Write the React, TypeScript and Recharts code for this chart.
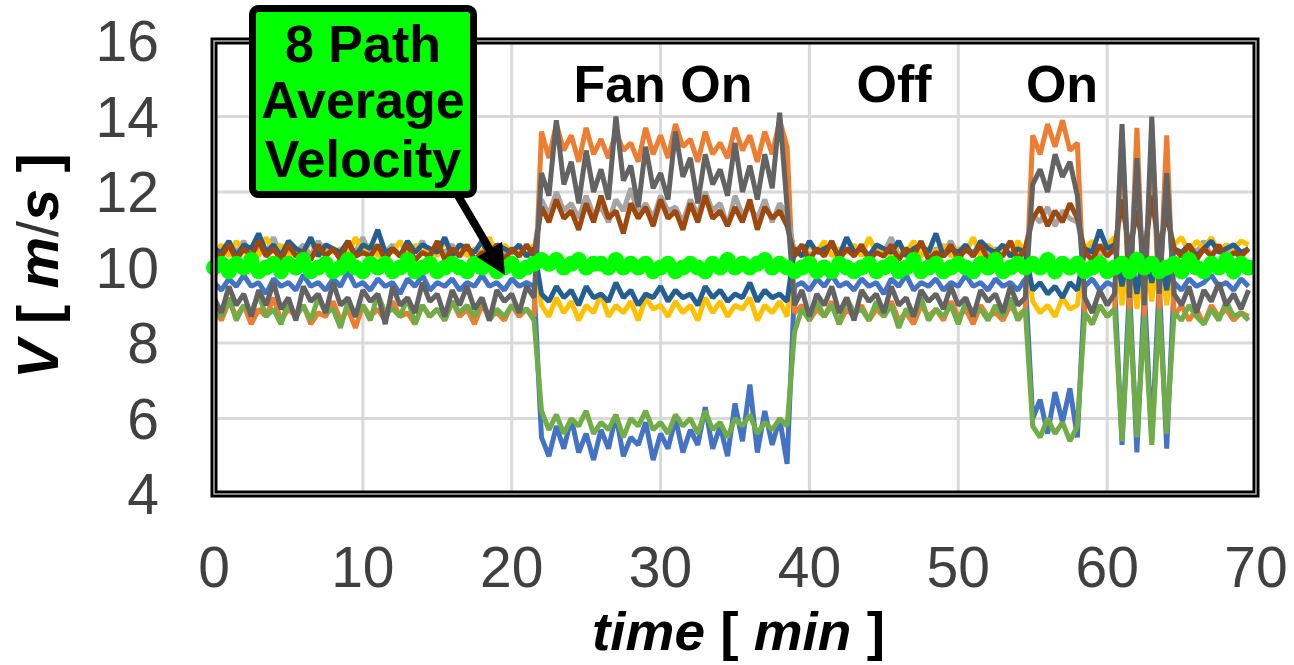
import { LineChart, Line, XAxis, YAxis, CartesianGrid } from "recharts";

// sample times [min], one reading every half minute
const time = [
  0, 0.5, 1, 1.5, 2, 2.5, 3, 3.5, 4, 4.5,
  5, 5.5, 6, 6.5, 7, 7.5, 8, 8.5, 9, 9.5,
  10, 10.5, 11, 11.5, 12, 12.5, 13, 13.5, 14, 14.5,
  15, 15.5, 16, 16.5, 17, 17.5, 18, 18.5, 19, 19.5,
  20, 20.5, 21, 21.5, 22, 22.5, 23, 23.5, 24, 24.5,
  25, 25.5, 26, 26.5, 27, 27.5, 28, 28.5, 29, 29.5,
  30, 30.5, 31, 31.5, 32, 32.5, 33, 33.5, 34, 34.5,
  35, 35.5, 36, 36.5, 37, 37.5, 38, 38.5, 39, 39.5,
  40, 40.5, 41, 41.5, 42, 42.5, 43, 43.5, 44, 44.5,
  45, 45.5, 46, 46.5, 47, 47.5, 48, 48.5, 49, 49.5,
  50, 50.5, 51, 51.5, 52, 52.5, 53, 53.5, 54, 54.5,
  55, 55.5, 56, 56.5, 57, 57.5, 58, 58.5, 59, 59.5,
  60, 60.5, 61, 61.5, 62, 62.5, 63, 63.5, 64, 64.5,
  65, 65.5, 66, 66.5, 67, 67.5, 68, 68.5, 69, 69.5,
];

// path velocities [m/s]; blocks: off 0-21.5 | on 22-38.5 | off 39-54.5 | on 55-58 | off 58.5-60.5 | cycling 61-64 | off 64.5-69.5
const path1 = [
  9.6, 9.4, 9.7, 9.5, 9.8, 9.5, 9.6, 9.3, 9.7, 9.5,
  9.6, 9.4, 9.8, 9.5, 9.6, 9.4, 9.7, 9.5, 9.9, 9.5,
  9.6, 9.4, 9.7, 9.5, 9.6, 9.3, 9.7, 9.5, 9.8, 9.4,
  9.6, 9.5, 9.7, 9.4, 9.6, 9.5, 9.8, 9.5, 9.6, 9.4,
  9.7, 9.5, 9.6, 9.5,
  5.5, 5.0, 5.8, 5.2, 6.0, 5.1, 5.6, 4.9, 5.7, 5.2,
  6.1, 5.0, 5.5, 5.3, 5.9, 4.9, 5.6, 5.2, 6.0, 5.1,
  5.7, 5.3, 6.3, 5.2, 5.8, 5.0, 6.4, 5.4, 6.9, 5.1,
  6.2, 5.3, 6.0, 4.8,
  9.5, 9.6, 9.4, 9.7, 9.5, 9.8, 9.5, 9.6, 9.4, 9.7,
  9.5, 9.6, 9.3, 9.7, 9.5, 9.8, 9.4, 9.6, 9.5, 9.7,
  9.4, 9.6, 9.5, 9.8, 9.5, 9.6, 9.4, 9.7, 9.5, 9.6,
  9.4, 9.7,
  6.0, 6.5, 5.6, 6.7, 5.9, 6.8, 5.5,
  9.5, 9.7, 9.4, 9.6, 9.5,
  5.3, 9.5, 5.1, 9.4, 5.4, 9.6, 5.2,
  9.6, 9.4, 9.7, 9.5, 9.6, 9.8, 9.5, 9.6, 9.4, 9.7, 9.5,
];

const path2 = [
  8.9, 8.6, 9.1, 8.7, 9.0, 8.5, 8.9, 8.7, 9.2, 8.6,
  8.9, 8.7, 9.0, 8.5, 8.8, 8.7, 9.1, 8.6, 8.9, 8.4,
  9.0, 8.7, 8.9, 8.6, 9.1, 8.7, 8.8, 8.5, 9.0, 8.7,
  8.9, 8.6, 9.1, 8.7, 8.9, 8.5, 9.0, 8.7, 8.8, 8.6,
  9.0, 8.7, 8.9, 8.7,
  13.6, 12.9, 13.8, 13.1, 13.5, 12.8, 13.7, 13.0, 13.4, 12.9,
  13.6, 13.1, 13.3, 12.8, 13.7, 13.0, 13.5, 12.9, 13.8, 13.2,
  13.4, 12.8, 13.6, 13.0, 13.3, 12.9, 13.7, 13.1, 13.5, 12.8,
  13.6, 13.0, 13.9, 13.2,
  8.8, 9.0, 8.6, 8.9, 8.7, 9.1, 8.5, 8.9, 8.7, 9.0,
  8.6, 8.9, 8.7, 9.1, 8.6, 8.8, 8.5, 9.0, 8.7, 8.9,
  8.6, 9.1, 8.7, 8.9, 8.5, 9.0, 8.7, 8.8, 8.6, 9.0,
  8.7, 8.9,
  13.5, 13.0, 13.8, 13.2, 13.9, 13.1, 13.3,
  8.8, 8.5, 9.0, 8.7, 8.9,
  13.6, 8.8, 13.7, 8.7, 13.6, 8.9, 13.5,
  8.7, 9.0, 8.6, 8.9, 8.5, 9.0, 8.7, 8.9, 8.6, 8.8, 8.7,
];

const path3 = [
  10.5, 10.3, 10.6, 10.4, 10.7, 10.3, 10.5, 10.4, 10.8, 10.3,
  10.5, 10.4, 10.6, 10.3, 10.7, 10.4, 10.5, 10.3, 10.6, 10.4,
  10.8, 10.3, 10.5, 10.4, 10.6, 10.3, 10.5, 10.4, 10.7, 10.3,
  10.5, 10.4, 10.6, 10.3, 10.5, 10.4, 10.7, 10.3, 10.6, 10.4,
  10.5, 10.3, 10.6, 10.4,
  11.8, 11.4, 12.0, 11.5, 11.7, 11.3, 11.9, 11.4, 11.6, 11.2,
  11.8, 11.5, 12.1, 11.4, 11.7, 11.3, 11.9, 11.5, 11.6, 11.2,
  11.8, 11.4, 12.0, 11.5, 11.7, 11.1, 11.9, 11.4, 11.6, 11.3,
  11.8, 11.2, 11.7, 11.4,
  10.4, 10.6, 10.3, 10.5, 10.4, 10.7, 10.3, 10.5, 10.4, 10.6,
  10.3, 10.5, 10.4, 10.8, 10.3, 10.5, 10.4, 10.6, 10.3, 10.5,
  10.4, 10.7, 10.3, 10.5, 10.4, 10.6, 10.3, 10.5, 10.4, 10.7,
  10.3, 10.5,
  11.4, 11.2, 11.6, 11.1, 11.5, 11.3, 11.2,
  10.4, 10.6, 10.3, 10.5, 10.4,
  11.8, 10.4, 11.6, 10.5, 11.9, 10.4, 11.5,
  10.5, 10.3, 10.6, 10.4, 10.7, 10.3, 10.5, 10.4, 10.6, 10.3, 10.5,
];

const path4 = [
  10.4, 10.6, 10.3, 10.7, 10.4, 10.5, 10.3, 10.8, 10.4, 10.6,
  10.3, 10.5, 10.4, 10.7, 10.3, 10.6, 10.4, 10.5, 10.3, 10.8,
  10.4, 10.6, 10.3, 10.5, 10.4, 10.7, 10.3, 10.6, 10.4, 10.5,
  10.3, 10.7, 10.4, 10.6, 10.3, 10.5, 10.4, 10.8, 10.3, 10.6,
  10.4, 10.5, 10.3, 10.6,
  9.0, 8.7, 9.2, 8.8, 9.1, 8.6, 9.0, 8.8, 9.3, 8.7,
  9.0, 8.8, 9.1, 8.6, 9.2, 8.9, 9.0, 8.7, 9.1, 8.8,
  9.0, 8.6, 9.2, 8.8, 9.1, 8.7, 9.0, 8.9, 9.2, 8.6,
  9.0, 8.8, 9.1, 8.7,
  10.5, 10.3, 10.6, 10.4, 10.7, 10.3, 10.5, 10.4, 10.6, 10.3,
  10.8, 10.4, 10.5, 10.3, 10.6, 10.4, 10.7, 10.3, 10.5, 10.4,
  10.6, 10.3, 10.5, 10.4, 10.8, 10.3, 10.6, 10.4, 10.5, 10.3,
  10.7, 10.4,
  9.1, 8.8, 9.0, 8.7, 9.2, 8.9, 9.0,
  10.5, 10.7, 10.4, 10.6, 10.8,
  9.0, 10.6, 8.9, 10.5, 9.1, 10.7, 9.0,
  10.6, 10.8, 10.4, 10.7, 10.5, 10.8, 10.4, 10.6, 10.5, 10.7, 10.6,
];

const path5 = [
  8.9, 8.7, 9.2, 8.6, 9.0, 8.8, 9.3, 8.7, 8.9, 8.5,
  9.1, 8.7, 9.0, 8.6, 9.2, 8.8, 8.9, 8.4, 9.1, 8.7,
  9.0, 8.6, 9.3, 8.8, 8.9, 8.7, 9.2, 8.5, 9.0, 8.7,
  8.9, 8.6, 9.1, 8.8, 9.0, 8.7, 9.2, 8.6, 8.9, 8.7,
  9.0, 8.8, 8.9, 8.6,
  6.2, 5.7, 6.1, 5.6, 6.0, 5.8, 6.2, 5.6, 5.9, 5.7,
  6.1, 5.5, 6.0, 5.8, 6.2, 5.7, 5.9, 5.6, 6.1, 5.8,
  6.0, 5.6, 6.2, 5.7, 5.9, 5.5, 6.0, 5.8, 6.1, 5.6,
  5.9, 5.7, 6.0, 5.8,
  8.3, 8.9, 8.6, 9.1, 8.7, 9.0, 8.5, 9.2, 8.8, 8.9,
  8.6, 9.1, 8.7, 9.0, 8.4, 8.9, 8.7, 9.2, 8.6, 8.9,
  8.7, 9.0, 8.5, 9.1, 8.8, 8.9, 8.6, 9.0, 8.7, 9.2,
  8.6, 8.9,
  5.8, 5.5, 6.0, 5.6, 5.9, 5.4, 5.8,
  8.8, 8.5, 9.0, 8.7, 8.9,
  5.4, 8.9, 5.5, 8.7, 5.3, 8.9, 5.6,
  8.8, 8.6, 9.0, 8.7, 8.5, 8.9, 8.6, 9.1, 8.7, 8.8, 8.6,
];

const path6 = [
  10.5, 10.4, 10.7, 10.3, 10.6, 10.5, 10.9, 10.4, 10.6, 10.3,
  10.7, 10.5, 10.4, 10.8, 10.3, 10.6, 10.5, 10.4, 10.7, 10.3,
  10.6, 10.5, 11.0, 10.4, 10.5, 10.3, 10.7, 10.4, 10.6, 10.5,
  10.4, 10.8, 10.3, 10.6, 10.5, 10.4, 10.7, 10.3, 10.6, 10.5,
  10.4, 10.6, 10.3, 10.5,
  9.3, 9.1, 9.5, 9.2, 9.4, 9.0, 9.5, 9.2, 9.3, 9.1,
  9.6, 9.2, 9.4, 9.0, 9.3, 9.2, 9.5, 9.1, 9.4, 9.2,
  9.3, 9.0, 9.5, 9.2, 9.4, 9.1, 9.3, 9.2, 9.6, 9.1,
  9.4, 9.2, 9.3, 9.1,
  10.5, 10.3, 10.7, 10.4, 10.5, 10.6, 10.3, 10.8, 10.4, 10.5,
  10.3, 10.6, 10.5, 10.4, 10.7, 10.3, 10.5, 10.6, 10.4, 10.9,
  10.3, 10.5, 10.4, 10.6, 10.3, 10.7, 10.5, 10.4, 10.6, 10.3,
  10.5, 10.4,
  9.4, 9.6, 9.3, 9.5, 9.2, 9.6, 9.4,
  10.5, 10.4, 11.0, 10.5, 10.6,
  9.5, 10.6, 9.3, 10.5, 9.6, 10.4, 9.4,
  10.5, 10.4, 10.6, 10.3, 10.5, 10.7, 10.4, 10.5, 10.6, 10.4, 10.5,
];

const path7 = [
  10.4, 10.3, 10.6, 10.2, 10.5, 10.3, 10.7, 10.3, 10.5, 10.2,
  10.6, 10.3, 10.4, 10.2, 10.6, 10.3, 10.5, 10.2, 10.7, 10.3,
  10.4, 10.3, 10.6, 10.2, 10.5, 10.3, 10.6, 10.2, 10.4, 10.3,
  10.7, 10.2, 10.5, 10.3, 10.6, 10.2, 10.4, 10.3, 10.6, 10.2,
  10.5, 10.3, 10.6, 10.3,
  11.6, 11.2, 11.8, 11.3, 11.5, 11.0, 11.7, 11.2, 11.9, 11.3,
  11.5, 10.9, 11.7, 11.3, 11.6, 11.1, 11.8, 11.3, 11.5, 11.0,
  11.7, 11.2, 11.9, 11.3, 11.5, 11.1, 11.6, 11.2, 11.8, 11.0,
  11.6, 11.3, 11.5, 11.1,
  10.3, 10.6, 10.2, 10.5, 10.3, 10.7, 10.2, 10.5, 10.3, 10.6,
  10.2, 10.4, 10.3, 10.6, 10.2, 10.5, 10.3, 10.7, 10.2, 10.4,
  10.3, 10.6, 10.2, 10.5, 10.3, 10.6, 10.2, 10.4, 10.3, 10.7,
  10.2, 10.5,
  11.3, 11.6, 11.1, 11.5, 11.2, 11.7, 11.3,
  10.4, 10.2, 10.6, 10.3, 10.5,
  11.8, 10.4, 11.5, 10.3, 11.9, 10.5, 11.4,
  10.5, 10.3, 10.6, 10.2, 10.5, 10.3, 10.6, 10.2, 10.4, 10.3, 10.5,
];

const path8 = [
  9.2, 8.8, 9.5, 9.0, 9.3, 8.7, 9.4, 9.0, 9.6, 8.9,
  9.2, 8.6, 9.5, 9.1, 9.3, 8.8, 9.6, 9.0, 9.2, 8.7,
  9.4, 9.1, 9.3, 8.5, 9.5, 9.0, 9.2, 8.8, 9.6, 9.1,
  9.3, 8.7, 9.4, 9.0, 9.5, 8.9, 9.2, 8.6, 9.4, 9.1,
  9.3, 8.8, 9.5, 9.2,
  12.5, 11.9, 13.9, 12.2, 12.8, 11.7, 13.1, 12.0, 12.6, 11.8,
  14.0, 12.3, 12.7, 11.6, 13.2, 12.1, 12.5, 11.8, 13.6, 12.4,
  12.9, 11.7, 13.0, 12.2, 12.6, 11.9, 13.3, 12.0, 12.7, 11.8,
  13.0, 12.1, 14.1, 11.6,
  9.0, 9.4, 8.7, 9.3, 9.0, 9.5, 8.8, 9.2, 8.6, 9.4,
  9.1, 9.3, 8.8, 9.5, 9.0, 9.2, 8.7, 9.4, 9.1, 9.3,
  8.9, 9.5, 9.0, 9.2, 8.7, 9.4, 9.1, 9.3, 8.8, 9.5,
  9.0, 9.2,
  12.2, 12.6, 12.0, 13.0, 12.4, 12.8, 11.9,
  9.2, 8.8, 9.4, 9.0, 9.3,
  13.8, 9.2, 12.9, 9.0, 14.0, 9.3, 12.5,
  9.3, 9.0, 9.5, 8.8, 9.4, 9.1, 9.6, 9.0, 9.3, 8.9, 9.4,
];

const average = [
  10.0, 10.1, 9.9, 10.1, 10.0, 10.2, 9.9, 10.0, 10.1, 9.9,
  10.1, 10.0, 10.2, 9.9, 10.0, 10.1, 9.9, 10.0, 10.2, 10.0,
  9.9, 10.1, 10.0, 10.1, 9.9, 10.0, 10.2, 9.9, 10.0, 10.1,
  9.9, 10.0, 10.1, 10.0, 9.9, 10.1, 10.0, 10.2, 9.9, 10.0,
  10.1, 9.9, 10.0, 10.1,
  10.2, 10.1, 10.2, 10.0, 10.1, 10.2, 10.0, 10.1, 10.1, 10.0,
  10.2, 10.0, 10.1, 10.0, 10.1, 9.9, 10.0, 10.1, 9.9, 10.0,
  10.1, 10.0, 9.9, 10.1, 10.0, 10.2, 10.0, 10.1, 10.0, 10.1,
  10.2, 10.0, 10.1, 10.0,
  9.9, 10.0, 10.1, 9.9, 10.0, 9.9, 10.1, 10.0, 9.9, 10.0,
  10.1, 9.9, 10.0, 10.1, 9.9, 10.0, 10.2, 9.9, 10.0, 10.1,
  9.9, 10.0, 10.1, 10.0, 9.9, 10.1, 10.0, 10.2, 9.9, 10.0,
  10.1, 10.0,
  10.1, 10.0, 10.2, 9.9, 10.1, 10.0, 10.1,
  9.9, 10.0, 10.1, 9.9, 10.0,
  10.1, 9.9, 10.2, 10.0, 10.1, 9.9, 10.0,
  10.1, 9.9, 10.2, 10.0, 9.9, 10.1, 10.0, 10.2, 9.9, 10.1, 10.0,
];

const xTicks = [0, 10, 20, 30, 40, 50, 60, 70];
const yTicks = [4, 6, 8, 10, 12, 14, 16];
const phaseLabels = ["Fan On", "Off", "On"];

const paths = [
  { key: "p1", values: path1, color: "#4472C4" },
  { key: "p2", values: path2, color: "#ED7D31" },
  { key: "p3", values: path3, color: "#A5A5A5" },
  { key: "p4", values: path4, color: "#FFC000" },
  { key: "p5", values: path5, color: "#70AD47" },
  { key: "p6", values: path6, color: "#255E91" },
  { key: "p7", values: path7, color: "#9E480E" },
  { key: "p8", values: path8, color: "#636363" },
];

const data = time.map((t, i) => {
  const row: Record<string, number> = { t, avg: average[i] };
  paths.forEach((p) => {
    row[p.key] = p.values[i];
  });
  return row;
});

const font = "'Liberation Sans', Arial, sans-serif";

export default function App() {
  return (
    <div style={{ position: "absolute", left: 0, top: 0, width: 1294, height: 665 }}>
      <LineChart
        width={1294}
        height={665}
        data={data}
        margin={{ top: 41, right: 38, bottom: 71, left: 64 }}
      >
        <CartesianGrid stroke="#D9D9D9" strokeWidth={3} />
        <XAxis
          type="number"
          dataKey="t"
          domain={[0, 70]}
          ticks={xTicks}
          interval={0}
          height={100}
          axisLine={false}
          tickLine={false}
          tickSize={0}
          tickMargin={53}
          tick={{ fontSize: 57, fill: "#404040", fontFamily: font }}
        />
        <YAxis
          type="number"
          domain={[4, 16]}
          ticks={yTicks}
          interval={0}
          width={150}
          axisLine={false}
          tickLine={false}
          tickSize={0}
          tickMargin={55}
          tick={{ fontSize: 57, fill: "#404040", fontFamily: font }}
        />
        {paths.map((p) => (
          <Line
            key={p.key}
            dataKey={p.key}
            stroke={p.color}
            strokeWidth={5}
            strokeLinejoin="bevel"
            dot={false}
            type="linear"
            isAnimationActive={false}
          />
        ))}
        <Line
          dataKey="avg"
          stroke="#00FF00"
          strokeWidth={11}
          dot={{ r: 8, fill: "#00FF00", stroke: "none" }}
          type="linear"
          isAnimationActive={false}
        />
      </LineChart>

      {/* frame, callout and captions on top of the chart */}
      <svg
        width={1294}
        height={665}
        style={{ position: "absolute", left: 0, top: 0, pointerEvents: "none" }}
        fontFamily={font}
      >
        <rect x={214} y={41} width={1042} height={453} fill="none" stroke="#000" strokeWidth={7} />
        <rect x={214} y={41} width={1042} height={453} fill="none" stroke="#B0B0B0" strokeWidth={1.5} />

        <g fontSize={52} fontWeight="bold" fill="#000" textAnchor="middle">
          <text x={663} y={102}>{phaseLabels[0]}</text>
          <text x={894} y={102}>{phaseLabels[1]}</text>
          <text x={1062} y={102}>{phaseLabels[2]}</text>
        </g>

        <line x1={457} y1={194} x2={490} y2={250} stroke="#000" strokeWidth={8} />
        <polygon points="505,275 477,257 502,242" fill="#000" />
        <rect x={252.5} y={8.5} width={221} height={186} rx={6} fill="#00FF00" stroke="#000" strokeWidth={7} />
        <g fontSize={52} fontWeight="bold" fill="#000" textAnchor="middle">
          <text x={363} y={62}>8 Path</text>
          <text x={363} y={118}>Average</text>
          <text x={363} y={177}>Velocity</text>
        </g>

        <text
          transform="translate(58,266) rotate(-90)"
          textAnchor="middle"
          fontSize={58}
          fontWeight="bold"
          fill="#000"
        >
          <tspan fontStyle="italic">V</tspan>
          <tspan> [ </tspan>
          <tspan fontStyle="italic">m</tspan>
          <tspan fontWeight="normal" fill="#333">/</tspan>
          <tspan fontStyle="italic">s</tspan>
          <tspan> ]</tspan>
        </text>

        <text
          x={592}
          y={650}
          fontSize={54}
          fontWeight="bold"
          fill="#000"
          textLength={293}
          lengthAdjust="spacingAndGlyphs"
        >
          <tspan fontStyle="italic">time</tspan>
          <tspan>{"  [ "}</tspan>
          <tspan fontStyle="italic">min</tspan>
          <tspan>{" ]"}</tspan>
        </text>
      </svg>
    </div>
  );
}
